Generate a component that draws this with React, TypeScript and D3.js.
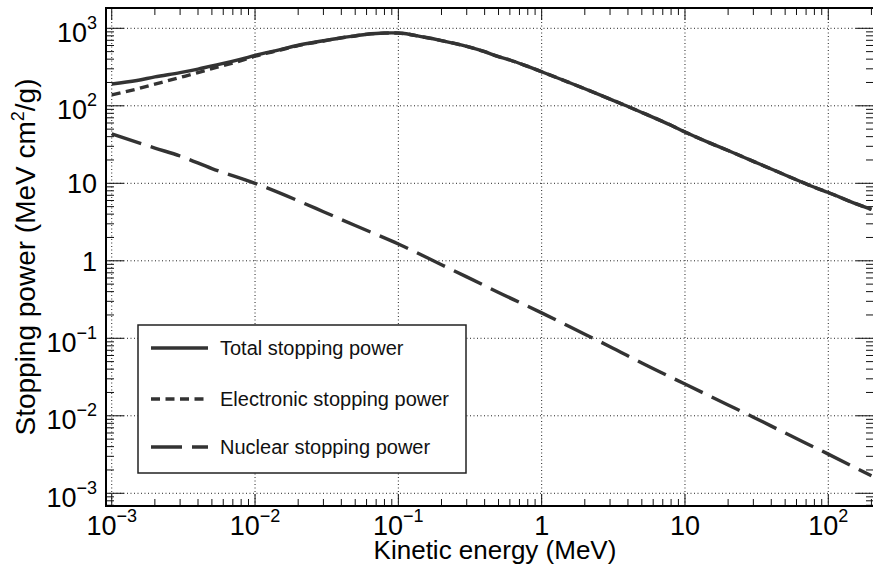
import React from "react";
import * as d3 from "d3";

// Kinetic energy (MeV)
const energy = [
  0.001, 0.0015, 0.002, 0.003, 0.004, 0.005, 0.006, 0.008, 0.01, 0.015, 0.02, 0.03, 0.04, 0.05,
  0.06, 0.07, 0.08, 0.09, 0.1, 0.15, 0.2, 0.3, 0.4, 0.5, 0.6, 0.8, 1, 1.5, 2, 3, 4, 5, 6, 8, 10,
  15, 20, 30, 40, 50, 60, 80, 100, 150, 200,
];
// Total stopping power (MeV cm2/g)
const totalSP = [
  191, 212, 236, 268, 298, 327, 352, 400, 448, 532, 605, 690, 755, 800,
  838, 858, 868, 872, 868, 772, 695, 585, 500, 430, 390, 322, 275, 205, 166, 122, 98, 82, 71, 56, 46,
  33, 26.5, 19.2, 15.3, 12.8, 11.1, 8.9, 7.6, 5.6, 4.6,
];
// Electronic stopping power (MeV cm2/g)
const electronicSP = [
  138, 165, 190, 232, 268, 302, 330, 382, 436, 525, 599, 686, 752, 797,
  836, 856, 866, 870, 866, 771, 694, 584, 499, 430, 390, 322, 275, 205, 166, 122, 98, 82, 71, 56, 46,
  33, 26.5, 19.2, 15.3, 12.8, 11.1, 8.9, 7.6, 5.6, 4.6,
];
// Nuclear stopping power (MeV cm2/g)
const nuclearEnergy = [
  0.001, 0.002, 0.003, 0.005, 0.01, 0.02, 0.03, 0.05, 0.1, 0.2, 0.3, 0.5, 1, 2, 3, 5, 10, 20, 30,
  50, 100, 200,
];
const nuclearSP = [
  43.5, 28.5, 22.5, 15.5, 10, 5.95, 4.3, 2.85, 1.65, 0.89, 0.62, 0.39, 0.213, 0.113, 0.078, 0.048,
  0.0257, 0.0138, 0.0096, 0.006, 0.0032, 0.00168,
];

const seriesNames = ["Total stopping power", "Electronic stopping power", "Nuclear stopping power"];
const seriesDash = ["", "9,5.5", "31,10"];

// tick labels: [mantissa, exponent]
const xTickExps = [-3, -2, -1, 0, 1, 2];
const xTickLabels: [string, string][] = [
  ["10", "−3"], ["10", "−2"], ["10", "−1"], ["1", ""], ["10", ""], ["10", "2"],
];
const yTickExps = [-3, -2, -1, 0, 1, 2, 3];
const yTickLabels: [string, string][] = [
  ["10", "−3"], ["10", "−2"], ["10", "−1"], ["1", ""], ["10", ""], ["10", "2"], ["10", "3"],
];

const W = 873;
const H = 569;
const L = 106, R = 874, T = 8, B = 506;
const FONT = "'Liberation Sans', Arial, Helvetica, sans-serif";
const INK = "#333333";

export default function App() {
  const x = d3.scaleLog().domain([Math.pow(10, -3.04), Math.pow(10, 2.319)]).range([L, R]);
  const y = d3.scaleLog().domain([Math.pow(10, -3.164), Math.pow(10, 3.262)]).range([B, T]);

  const line = d3
    .line<[number, number]>()
    .x((d) => x(d[0]))
    .y((d) => y(d[1]))
    .curve(d3.curveMonotoneX);

  const totalPts = energy.map((e, i) => [e, totalSP[i]] as [number, number]);
  const elecPts = energy.map((e, i) => [e, electronicSP[i]] as [number, number]);
  const nucPts = nuclearEnergy.map((e, i) => [e, nuclearSP[i]] as [number, number]);

  const [x0, x1] = x.domain();
  const [y0, y1] = y.domain();
  const xMinor: number[] = [];
  for (let k = -4; k <= 3; k++)
    for (let m = 2; m <= 9; m++) {
      const v = m * Math.pow(10, k);
      if (v > x0 && v < x1) xMinor.push(v);
    }
  const yMinor: number[] = [];
  for (let k = -4; k <= 3; k++)
    for (let m = 2; m <= 9; m++) {
      const v = m * Math.pow(10, k);
      if (v > y0 && v < y1) yMinor.push(v);
    }

  const majX = 12, minX = 7, majY = 18, minY = 8;

  const legX = 138, legY = 325, legW = 328, legH = 148;
  const legRows = [348, 399, 447];

  return (
    <svg width={W} height={H} style={{ position: "absolute", left: 0, top: 0, background: "#fff" }} fontFamily={FONT}>
      <rect x={0} y={0} width={W} height={H} fill="#fff" />
      <defs>
        <clipPath id="plotClip">
          <rect x={L} y={T} width={R - L} height={B - T} />
        </clipPath>
      </defs>
      {/* grid */}
      <g stroke="#222" strokeWidth={1} strokeDasharray="1,2.5">
        {xTickExps.map((k) => (
          <line key={"gx" + k} x1={x(Math.pow(10, k))} x2={x(Math.pow(10, k))} y1={T} y2={B} />
        ))}
        {yTickExps.map((k) => (
          <line key={"gy" + k} x1={L} x2={R} y1={y(Math.pow(10, k))} y2={y(Math.pow(10, k))} />
        ))}
      </g>
      {/* ticks */}
      <g stroke="#111" strokeWidth={1}>
        {xTickExps.map((k) => {
          const px = x(Math.pow(10, k));
          return (
            <g key={"tx" + k}>
              <line x1={px} x2={px} y1={B} y2={B - majX} />
              <line x1={px} x2={px} y1={T} y2={T + majX} />
            </g>
          );
        })}
        {xMinor.map((v, i) => {
          const px = x(v);
          return (
            <g key={"mx" + i}>
              <line x1={px} x2={px} y1={B} y2={B - minX} />
              <line x1={px} x2={px} y1={T} y2={T + minX} />
            </g>
          );
        })}
        {yTickExps.map((k) => {
          const py = y(Math.pow(10, k));
          return (
            <g key={"ty" + k}>
              <line x1={L} x2={L + majY} y1={py} y2={py} />
              <line x1={R} x2={R - majY} y1={py} y2={py} />
            </g>
          );
        })}
        {yMinor.map((v, i) => {
          const py = y(v);
          return (
            <g key={"my" + i}>
              <line x1={L} x2={L + minY} y1={py} y2={py} />
              <line x1={R} x2={R - minY} y1={py} y2={py} />
            </g>
          );
        })}
      </g>
      {/* curves */}
      <g clipPath="url(#plotClip)" fill="none" stroke={INK} strokeWidth={3.4} strokeLinejoin="round">
        <path d={line(nucPts) || ""} strokeDasharray={seriesDash[2]} />
        <path d={line(elecPts) || ""} strokeDasharray={seriesDash[1]} />
        <path d={line(totalPts) || ""} />
      </g>
      {/* frame */}
      <rect x={L} y={T} width={R - L} height={B - T} fill="none" stroke="#000" strokeWidth={2} />
      {/* legend */}
      <rect x={legX} y={legY} width={legW} height={legH} fill="#fff" stroke="#222" strokeWidth={1.5} />
      {seriesNames.map((name, i) => (
        <g key={name}>
          <line x1={151} x2={208} y1={legRows[i]} y2={legRows[i]} stroke={INK} strokeWidth={3.4} strokeDasharray={seriesDash[i]} />
          <text x={220} y={legRows[i] + 7} fontSize={20} fill="#111">
            {name}
          </text>
        </g>
      ))}
      {/* x tick labels */}
      {xTickExps.map((k, i) => (
        <text key={"lx" + k} x={x(Math.pow(10, k))} y={535} fontSize={27} textAnchor="middle" fill="#000">
          <tspan>{xTickLabels[i][0]}</tspan>
          {xTickLabels[i][1] && (
            <tspan dy={-13} fontSize={18}>
              {xTickLabels[i][1]}
            </tspan>
          )}
        </text>
      ))}
      {/* y tick labels */}
      {yTickExps.map((k, i) => (
        <text
          key={"ly" + k}
          x={97}
          y={y(Math.pow(10, k)) + (yTickLabels[i][1] ? 13.5 : 10)}
          fontSize={27}
          textAnchor="end"
          fill="#000"
        >
          <tspan>{yTickLabels[i][0]}</tspan>
          {yTickLabels[i][1] && (
            <tspan dy={-13} fontSize={18}>
              {yTickLabels[i][1]}
            </tspan>
          )}
        </text>
      ))}
      {/* axis labels */}
      <text x={(L + R) / 2 + 5} y={559} fontSize={26} textAnchor="middle" fill="#000">
        Kinetic energy (MeV)
      </text>
      <text transform={`translate(35,${(T + B) / 2}) rotate(-90)`} fontSize={28} textAnchor="middle" fill="#000">
        <tspan>Stopping power (MeV cm</tspan>
        <tspan dy={-11} fontSize={18}>2</tspan>
        <tspan dy={11}>/g)</tspan>
      </text>
    </svg>
  );
}
